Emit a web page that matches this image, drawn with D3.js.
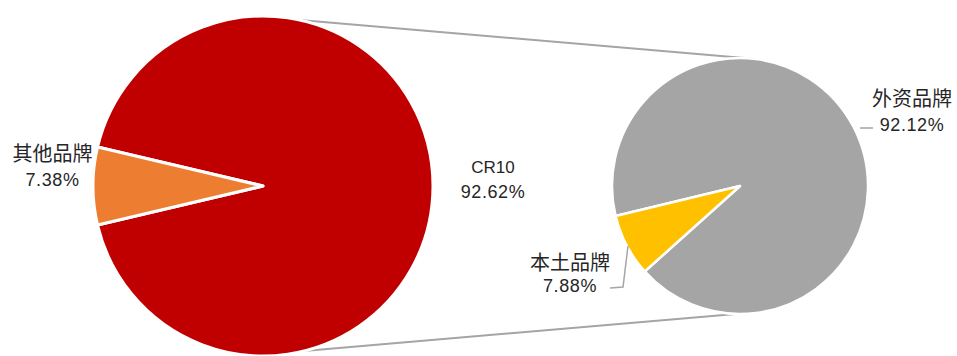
<!DOCTYPE html>
<html><head><meta charset="utf-8">
<script src="https://cdn.jsdelivr.net/npm/d3@7"></script>
<style>
html,body{margin:0;padding:0;background:#fff;}
svg{display:block;}
</style></head>
<body>
<svg id="chart" width="957" height="356"></svg>
<script>
// ---- data ----
const mainLabels = ["CR10", "其他品牌"];
const mainValues = [92.62, 7.38];
const mainColors = ["#C00000", "#ED7D31"];
const subLabels = ["外资品牌", "本土品牌"];
const subValues = [92.12, 7.88];
const subColors = ["#A5A5A5", "#FFC000"];

const svg = d3.select("#chart");
const W = 957, H = 356;

// layout
const big = {cx: 263, cy: 186, r: 170};
const small = {cx: 740, cy: 186, r: 128};
const deg = Math.PI / 180;

// big pie: 其他品牌 slice centered pointing left (270°)
const bigOtherFrac = mainValues[1] / d3.sum(mainValues);
const bigStart = 270 * deg - 2 * Math.PI * (1 - bigOtherFrac / 2);
const bigPie = d3.pie().sort(null).value(d => d)
  .startAngle(bigStart).endAngle(bigStart + 2 * Math.PI);
const bigArc = d3.arc().innerRadius(0).outerRadius(big.r);

// small pie: 本土品牌 slice centered ~27.7° below left
const subOtherFrac = subValues[1] / d3.sum(subValues);
const subCenterAngle = 242.3 * deg;
const smallStart = subCenterAngle - 2 * Math.PI * (1 - subOtherFrac / 2);
const smallPie = d3.pie().sort(null).value(d => d)
  .startAngle(smallStart).endAngle(smallStart + 2 * Math.PI);
const smallArc = d3.arc().innerRadius(0).outerRadius(small.r);

// connector lines (series lines)
function pt(c, aDeg) { // angle clockwise from top
  return [c.cx + c.r * Math.sin(aDeg * deg), c.cy - c.r * Math.cos(aDeg * deg)];
}
const connectors = [
  [pt(big, 12.5), pt(small, 4.5)],
  [pt(big, 166), pt(small, 182)]
];
svg.append("g").selectAll("line").data(connectors).join("line")
  .attr("x1", d => d[0][0]).attr("y1", d => d[0][1])
  .attr("x2", d => d[1][0]).attr("y2", d => d[1][1])
  .attr("stroke", "#A5A5A5").attr("stroke-width", 2);

// big pie
svg.append("g").attr("transform", `translate(${big.cx},${big.cy})`)
  .selectAll("path").data(bigPie(mainValues)).join("path")
  .attr("d", bigArc)
  .attr("fill", (d, i) => mainColors[i])
  .attr("stroke", "#fff").attr("stroke-width", 3).attr("stroke-linejoin", "round");

// small pie
svg.append("g").attr("transform", `translate(${small.cx},${small.cy})`)
  .selectAll("path").data(smallPie(subValues)).join("path")
  .attr("d", smallArc)
  .attr("fill", (d, i) => subColors[i])
  .attr("stroke", "#fff").attr("stroke-width", 2.5).attr("stroke-linejoin", "round");

// leader lines
const leaders = [
  [[628, 246], [623, 287], [610, 288]],
  [[860, 128], [873, 128]]
];
svg.append("g").selectAll("path").data(leaders).join("path")
  .attr("d", d => d3.line()(d))
  .attr("fill", "none").attr("stroke", "#A5A5A5").attr("stroke-width", 1.5);

// labels
const fmt = v => v.toFixed(2) + "%";
const labels = [
  {name: mainLabels[0], val: mainValues[0], x: 493, y1: 167, y2: 192},
  {name: mainLabels[1], val: mainValues[1], x: 52.5, y1: 152, y2: 180},
  {name: subLabels[0], val: subValues[0], x: 912, y1: 97, y2: 125},
  {name: subLabels[1], val: subValues[1], x: 570, y1: 261, y2: 286}
];
const lg = svg.append("g").attr("fill", "#262626");
labels.forEach(l => {
  const isCJK = /[\u4e00-\u9fff]/.test(l.name);
  lg.append("text").attr("x", l.x).attr("y", l.y1)
    .attr("text-anchor", "middle").attr("dominant-baseline", "central")
    .attr("font-family", isCJK ? "'Noto Sans CJK SC', sans-serif" : "'Liberation Sans', Arial, sans-serif")
    .attr("font-size", isCJK ? 20 : 17)
    .text(l.name);
  lg.append("text").attr("x", l.x).attr("y", l.y2)
    .attr("text-anchor", "middle").attr("dominant-baseline", "central")
    .attr("font-family", "'Liberation Sans', Arial, sans-serif")
    .attr("font-size", 18)
    .attr("letter-spacing", 0.6)
    .text(fmt(l.val));
});
</script>
</body></html>
